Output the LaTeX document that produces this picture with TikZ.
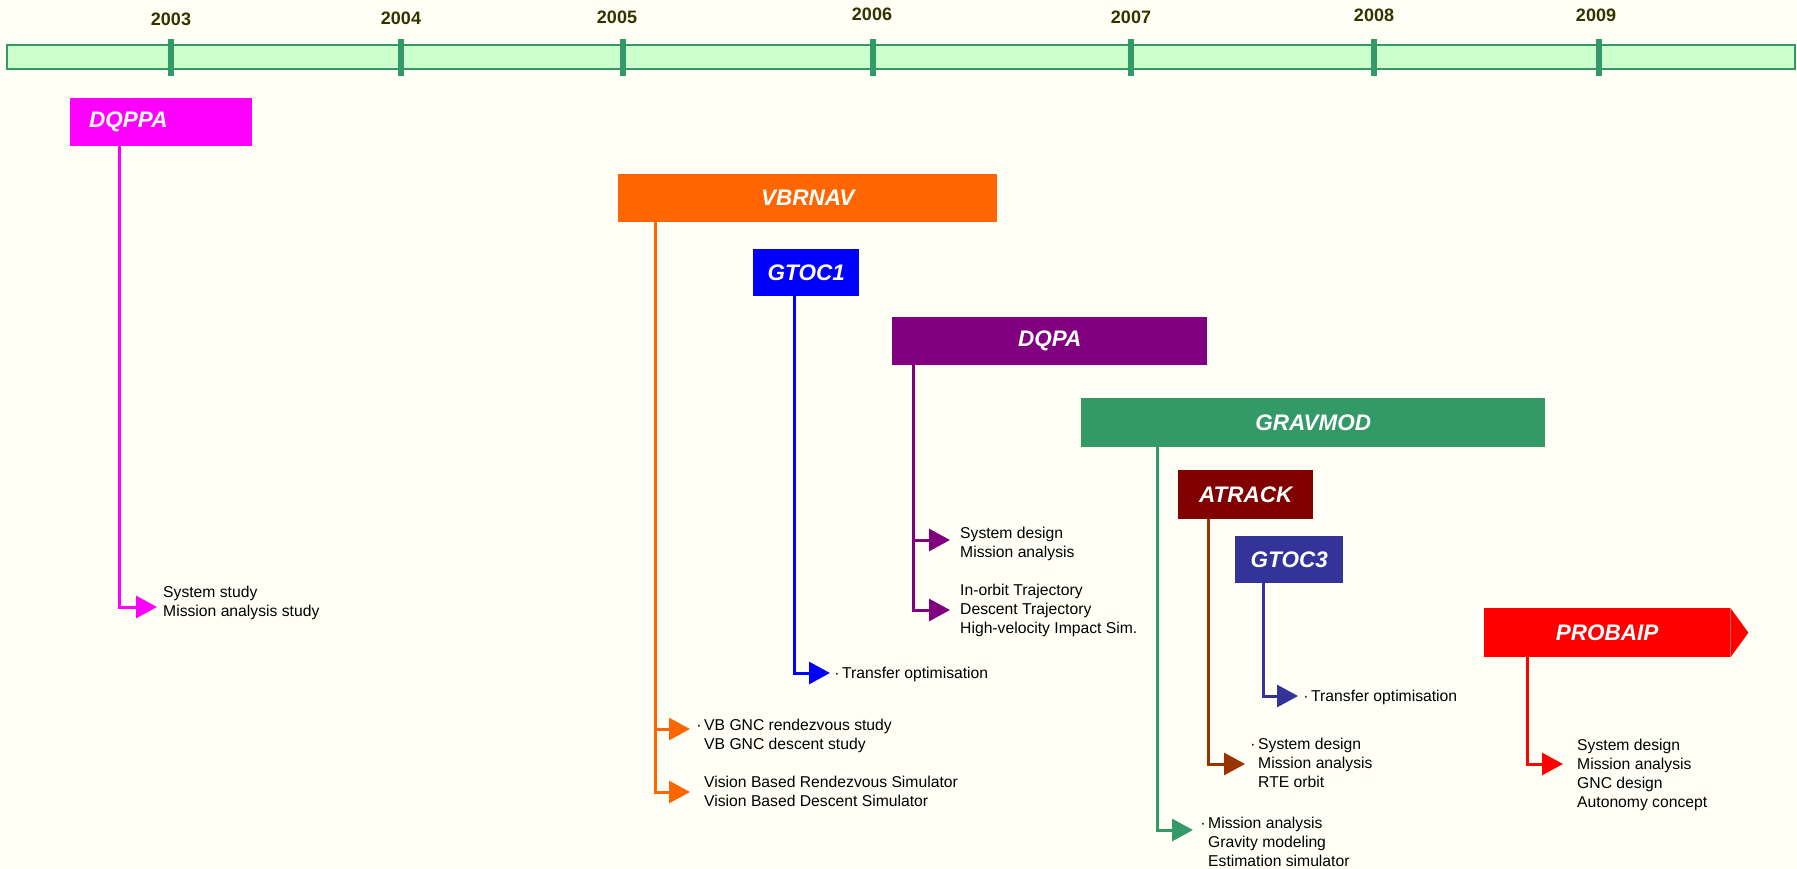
\documentclass[tikz,border=0pt]{standalone}
\usepackage{fontspec}
\setmainfont{Liberation Sans}
\usepackage{tikz}
\usetikzlibrary{arrows.meta}

\definecolor{bgcream}{RGB}{255,255,245}
\definecolor{barfill}{RGB}{204,255,204}
\definecolor{tlgreen}{RGB}{51,153,102}
\definecolor{yearcol}{RGB}{51,51,0}
\definecolor{dqmagenta}{RGB}{255,0,255}
\definecolor{vborange}{RGB}{255,102,0}
\definecolor{gtocpure}{RGB}{0,0,255}
\definecolor{dqpurple}{RGB}{128,0,128}
\definecolor{atrbox}{RGB}{128,0,0}
\definecolor{atrline}{RGB}{153,51,0}
\definecolor{gtocblue}{RGB}{51,51,153}
\definecolor{probred}{RGB}{255,0,0}

\newcommand{\notefont}{\fontsize{15.7}{19}\selectfont}
\newcommand{\projfont}{\fontsize{22.5}{26}\selectfont\bfseries\itshape}
\newcommand{\yearfont}{\fontsize{18}{20}\selectfont\bfseries}

\begin{document}
\begin{tikzpicture}[x=1pt, y=-1pt]
    \tikzstyle{proj} = [rectangle, anchor=north west, inner sep=0pt, text=white, font=\projfont]
    \tikzstyle{link} = [line width=3pt, -{Triangle[length=21pt, width=22pt]}]
    \tikzstyle{note} = [anchor=north west, inner sep=0pt, align=left, font=\notefont]

    % Background
    \fill[bgcream] (0,0) rectangle (1797,869);
    \useasboundingbox (0,0) rectangle (1797,869);

    % Timeline
    \draw[tlgreen, line width=1.5pt, fill=barfill] (7,45) rectangle (1795,69);
    \foreach \yr/\xx/\lx/\yy in {2003/171/171/19, 2004/401/401/18, 2005/623/617/17, 2006/873/872/14,
                                 2007/1131/1131/17, 2008/1374/1374/15, 2009/1599/1596/15} {
        \draw[tlgreen, line width=6pt] (\xx,39) -- (\xx,76);
        \node[font=\yearfont, text=yearcol] (y\yr) at (\lx,\yy) {\yr};
    }

    % Projects
    \node[proj, fill=dqmagenta, text width=144pt, inner xsep=19pt, minimum height=48pt, align=left] (dqppa) at (70,98) {DQPPA};
    \node[proj, fill=vborange, minimum width=379pt, minimum height=48pt] (vbrnav) at (618,174) {VBRNAV};
    \node[proj, fill=gtocpure, minimum width=106pt, minimum height=47pt] (gtoc1) at (753,249) {GTOC1};
    \node[proj, fill=dqpurple, minimum width=315pt, minimum height=48pt] (dqpa) at (892,317) {DQPA};
    \node[proj, fill=tlgreen, minimum width=464pt, minimum height=49pt] (gravmod) at (1081,398) {GRAVMOD};
    \node[proj, fill=atrbox, minimum width=135pt, minimum height=49pt] (atrack) at (1178,470) {ATRACK};
    \node[proj, fill=gtocblue, minimum width=108pt, minimum height=47pt] (gtoc3) at (1235,536) {GTOC3};
    \node[proj, fill=probred, minimum width=246pt, minimum height=49pt] (probaip) at (1484,608) {PROBAIP};
    \fill[probred] (probaip.north east) -- ([xshift=18pt]probaip.east) -- (probaip.south east) -- cycle;

    % Results
    \node[note] (dqppaTxt) at (163,584) {\strut System study\\Mission analysis study};
    \node[note] (vbTxtA) at (704,717) {\strut\llap{·\hspace{2.5pt}}VB GNC rendezvous study\\VB GNC descent study};
    \node[note] (vbTxtB) at (704,774) {\strut Vision Based Rendezvous Simulator\\Vision Based Descent Simulator};
    \node[note] (gtocATxt) at (842,665) {\strut\llap{·\hspace{2.5pt}}Transfer optimisation};
    \node[note] (dqpaTxtA) at (960,525) {\strut System design\\Mission analysis};
    \node[note] (dqpaTxtB) at (960,582) {\strut In-orbit Trajectory\\Descent Trajectory\\High-velocity Impact Sim.};
    \node[note] (gravTxt) at (1208,815) {\strut\llap{·\hspace{2.5pt}}Mission analysis\\Gravity modeling\\Estimation simulator};
    \node[note] (atrTxt) at (1258,736) {\strut\llap{·\hspace{2.5pt}}System design\\Mission analysis\\RTE orbit};
    \node[note] (gtocBTxt) at (1311,688) {\strut\llap{·\hspace{2.5pt}}Transfer optimisation};
    \node[note] (probTxt) at (1577,737) {\strut System design\\Mission analysis\\GNC design\\Autonomy concept};

    % Arrow tips
    \coordinate (dqppaEnd) at (157,607);
    \coordinate (vbEndA) at (690,729);
    \coordinate (vbEndB) at (690,792);
    \coordinate (gtocAEnd) at (830,673);
    \coordinate (dqpaEndA) at (950,540);
    \coordinate (dqpaEndB) at (950,610);
    \coordinate (gravEnd) at (1193,830);
    \coordinate (atrEnd) at (1245,764);
    \coordinate (gtocBEnd) at (1298,696);
    \coordinate (probEnd) at (1563,764);

    % Connectors
    \draw[link, dqmagenta] ([xshift=49pt]dqppa.south west) |- (dqppaEnd);
    \draw[link, vborange] ([xshift=37pt]vbrnav.south west) |- (vbEndB);
    \draw[link, vborange] ([xshift=37pt]vbrnav.south west) |- (vbEndA);
    \draw[link, gtocpure] ([xshift=41pt]gtoc1.south west) |- (gtocAEnd);
    \draw[link, dqpurple] ([xshift=21pt]dqpa.south west) |- (dqpaEndB);
    \draw[link, dqpurple] ([xshift=21pt]dqpa.south west) |- (dqpaEndA);
    \draw[link, tlgreen] ([xshift=76pt]gravmod.south west) |- (gravEnd);
    \draw[link, atrline] ([xshift=30pt]atrack.south west) |- (atrEnd);
    \draw[link, gtocblue] ([xshift=28pt]gtoc3.south west) |- (gtocBEnd);
    \draw[link, probred] ([xshift=43pt]probaip.south west) |- (probEnd);

\end{tikzpicture}
\end{document}
